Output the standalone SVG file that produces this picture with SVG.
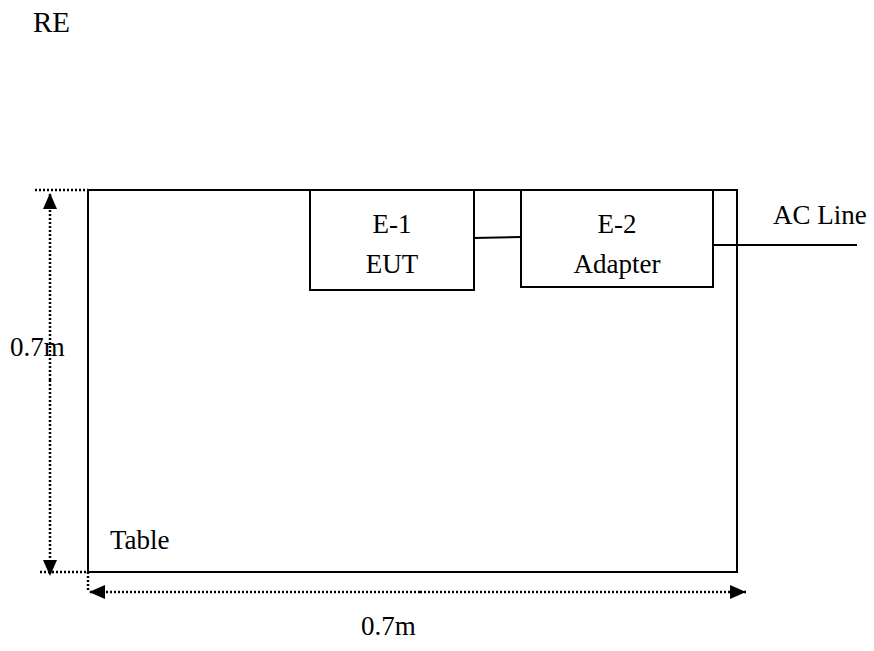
<svg xmlns="http://www.w3.org/2000/svg" width="874" height="651" viewBox="0 0 874 651">
<defs>
<style>
.t{font-family:"Liberation Serif","Times New Roman",serif;font-size:27px;fill:#000}
.box{fill:none;stroke:#000;stroke-width:2}
.ln{fill:none;stroke:#000;stroke-width:2}
.dot{fill:none;stroke:#000;stroke-width:2.5;stroke-dasharray:2 2}
</style>
<marker id="ah" viewBox="0 0 16 14" refX="16" refY="7" markerWidth="16" markerHeight="14" markerUnits="userSpaceOnUse" orient="auto">
<path d="M0,0 L16,7 L0,14 Z" fill="#000"/>
</marker>
</defs>
<rect width="874" height="651" fill="#fff"/>
<text class="t" x="33" y="32" style="font-size:29px">RE</text>
<g id="table">
<rect class="box" x="88" y="190" width="649" height="382"/>
<text class="t" x="110" y="549">Table</text>
</g>
<g id="e1">
<rect class="box" x="310" y="190" width="164" height="100"/>
<text class="t" x="392" y="233" text-anchor="middle">E-1</text>
<text class="t" x="392" y="273" text-anchor="middle">EUT</text>
</g>
<g id="e2">
<rect class="box" x="521" y="190" width="192" height="97"/>
<text class="t" x="617" y="233" text-anchor="middle">E-2</text>
<text class="t" x="617" y="273" text-anchor="middle">Adapter</text>
</g>
<g id="acline">
<text class="t" x="773" y="224">AC Line</text>
</g>
<g id="connectors">
<path class="ln" d="M474,238 L521,237"/>
<path class="ln" d="M713,245 L857,245"/>
</g>
<g id="dimensions">
<path class="dot" d="M35,190 L88,190"/>
<path class="dot" d="M40,572 L88,572"/>
<path class="dot" d="M88,572 L88,592"/>
<path class="dot" d="M50,380 L50,193" marker-end="url(#ah)"/>
<path class="dot" d="M50,380 L50,576" marker-end="url(#ah)"/>
<path class="dot" d="M420,592 L89,592" marker-end="url(#ah)"/>
<path class="dot" d="M420,592 L746,592" marker-end="url(#ah)"/>
<text class="t" x="10" y="356">0.7m</text>
<text class="t" x="361" y="635">0.7m</text>
</g>
</svg>
